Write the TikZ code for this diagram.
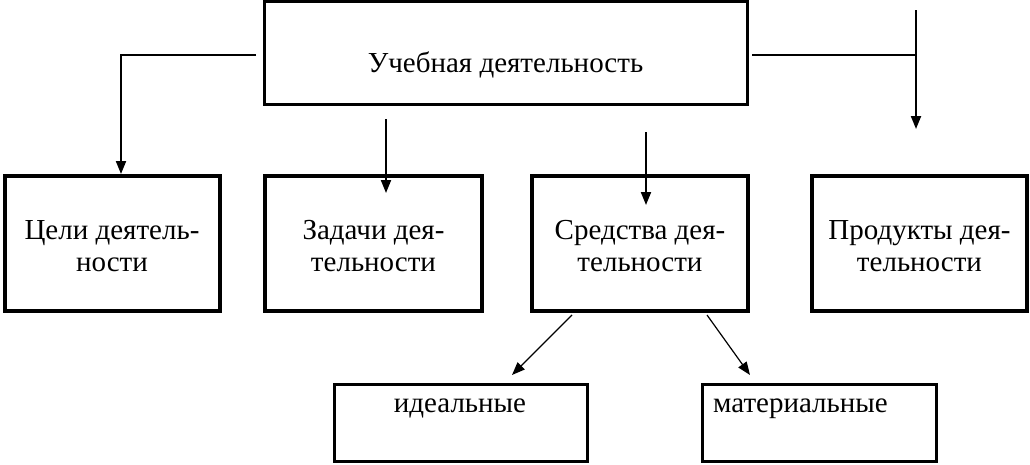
\documentclass[tikz,border=0pt]{standalone}
\usepackage{fontspec}
\setmainfont{Liberation Serif}
\usetikzlibrary{arrows.meta}
\begin{document}
\begin{tikzpicture}[x=1pt,y=-1pt,
  box/.style={draw, line width=3.5pt, inner sep=0pt, minimum height=135pt},
  smallbox/.style={draw, line width=3pt, inner sep=0pt, minimum height=77pt},
  lbl/.style={font=\fontsize{29}{32}\selectfont, inner sep=0pt},
  conn/.style={line width=2pt, -{Triangle[length=13pt,width=10pt]}},
  thinconn/.style={line width=1.2pt, -{Triangle[length=13pt,width=10pt]}},
  plain/.style={line width=2pt}]
\useasboundingbox (0,0) rectangle (1030,464);
% main box
\node[draw, line width=3.5pt, inner sep=0pt, minimum width=483pt, minimum height=103pt] (top) at (506,53) {};
\node[lbl, anchor=base] (toptext) at (505.5,72) {Учебная деятельность};
% second row
\node[box, minimum width=215pt] (celi) at (112.5,243.5) {};
\node[box, minimum width=217pt] (zadachi) at (373.5,243.5) {};
\node[box, minimum width=216pt] (sredstva) at (640,243.5) {};
\node[box, minimum width=215pt] (produkty) at (919.5,243.5) {};
\node[lbl, anchor=base] (celitext) at (112,239) {\begin{tabular}[t]{@{}c@{}}Цели деятель-\\ности\end{tabular}};
\node[lbl, anchor=base] (zadachitext) at (373.5,239) {\begin{tabular}[t]{@{}c@{}}Задачи дея-\\тельности\end{tabular}};
\node[lbl, anchor=base] (sredstvatext) at (640,239) {\begin{tabular}[t]{@{}c@{}}Средства дея-\\тельности\end{tabular}};
\node[lbl, anchor=base] (produktytext) at (919.5,239) {\begin{tabular}[t]{@{}c@{}}Продукты дея-\\тельности\end{tabular}};
% bottom row
\node[smallbox, minimum width=253pt] (ideal) at (460.5,422.5) {};
\node[lbl, anchor=base] (idealtext) at (460,412) {идеальные};
\node[smallbox, minimum width=234pt] (mater) at (819,422.5) {};
\node[lbl, anchor=base west] (matertext) at (713,412) {материальные};
% connector coordinates
\coordinate (l0) at (256,55);
\coordinate (l1) at (121,174);
\coordinate (z0) at (386,119);
\coordinate (z1) at (386,193);
\coordinate (s0) at (646,132);
\coordinate (s1) at (646,205);
\coordinate (r0) at (752,55);
\coordinate (r1) at (916,55);
\coordinate (rt) at (916,10);
\coordinate (rb) at (916,129);
\coordinate (d1a) at (572,315);
\coordinate (d1b) at (512,375);
\coordinate (d2a) at (707,315);
\coordinate (d2b) at (750,375);
% connectors
\draw[conn] (l0) -| (l1);
\draw[conn] (z0) -- (z1);
\draw[conn] (s0) -- (s1);
\draw[plain] (r0) -- (r1);
\draw[conn] (rt) -- (rb);
\draw[thinconn] (d1a) -- (d1b);
\draw[thinconn] (d2a) -- (d2b);
\end{tikzpicture}
\end{document}
